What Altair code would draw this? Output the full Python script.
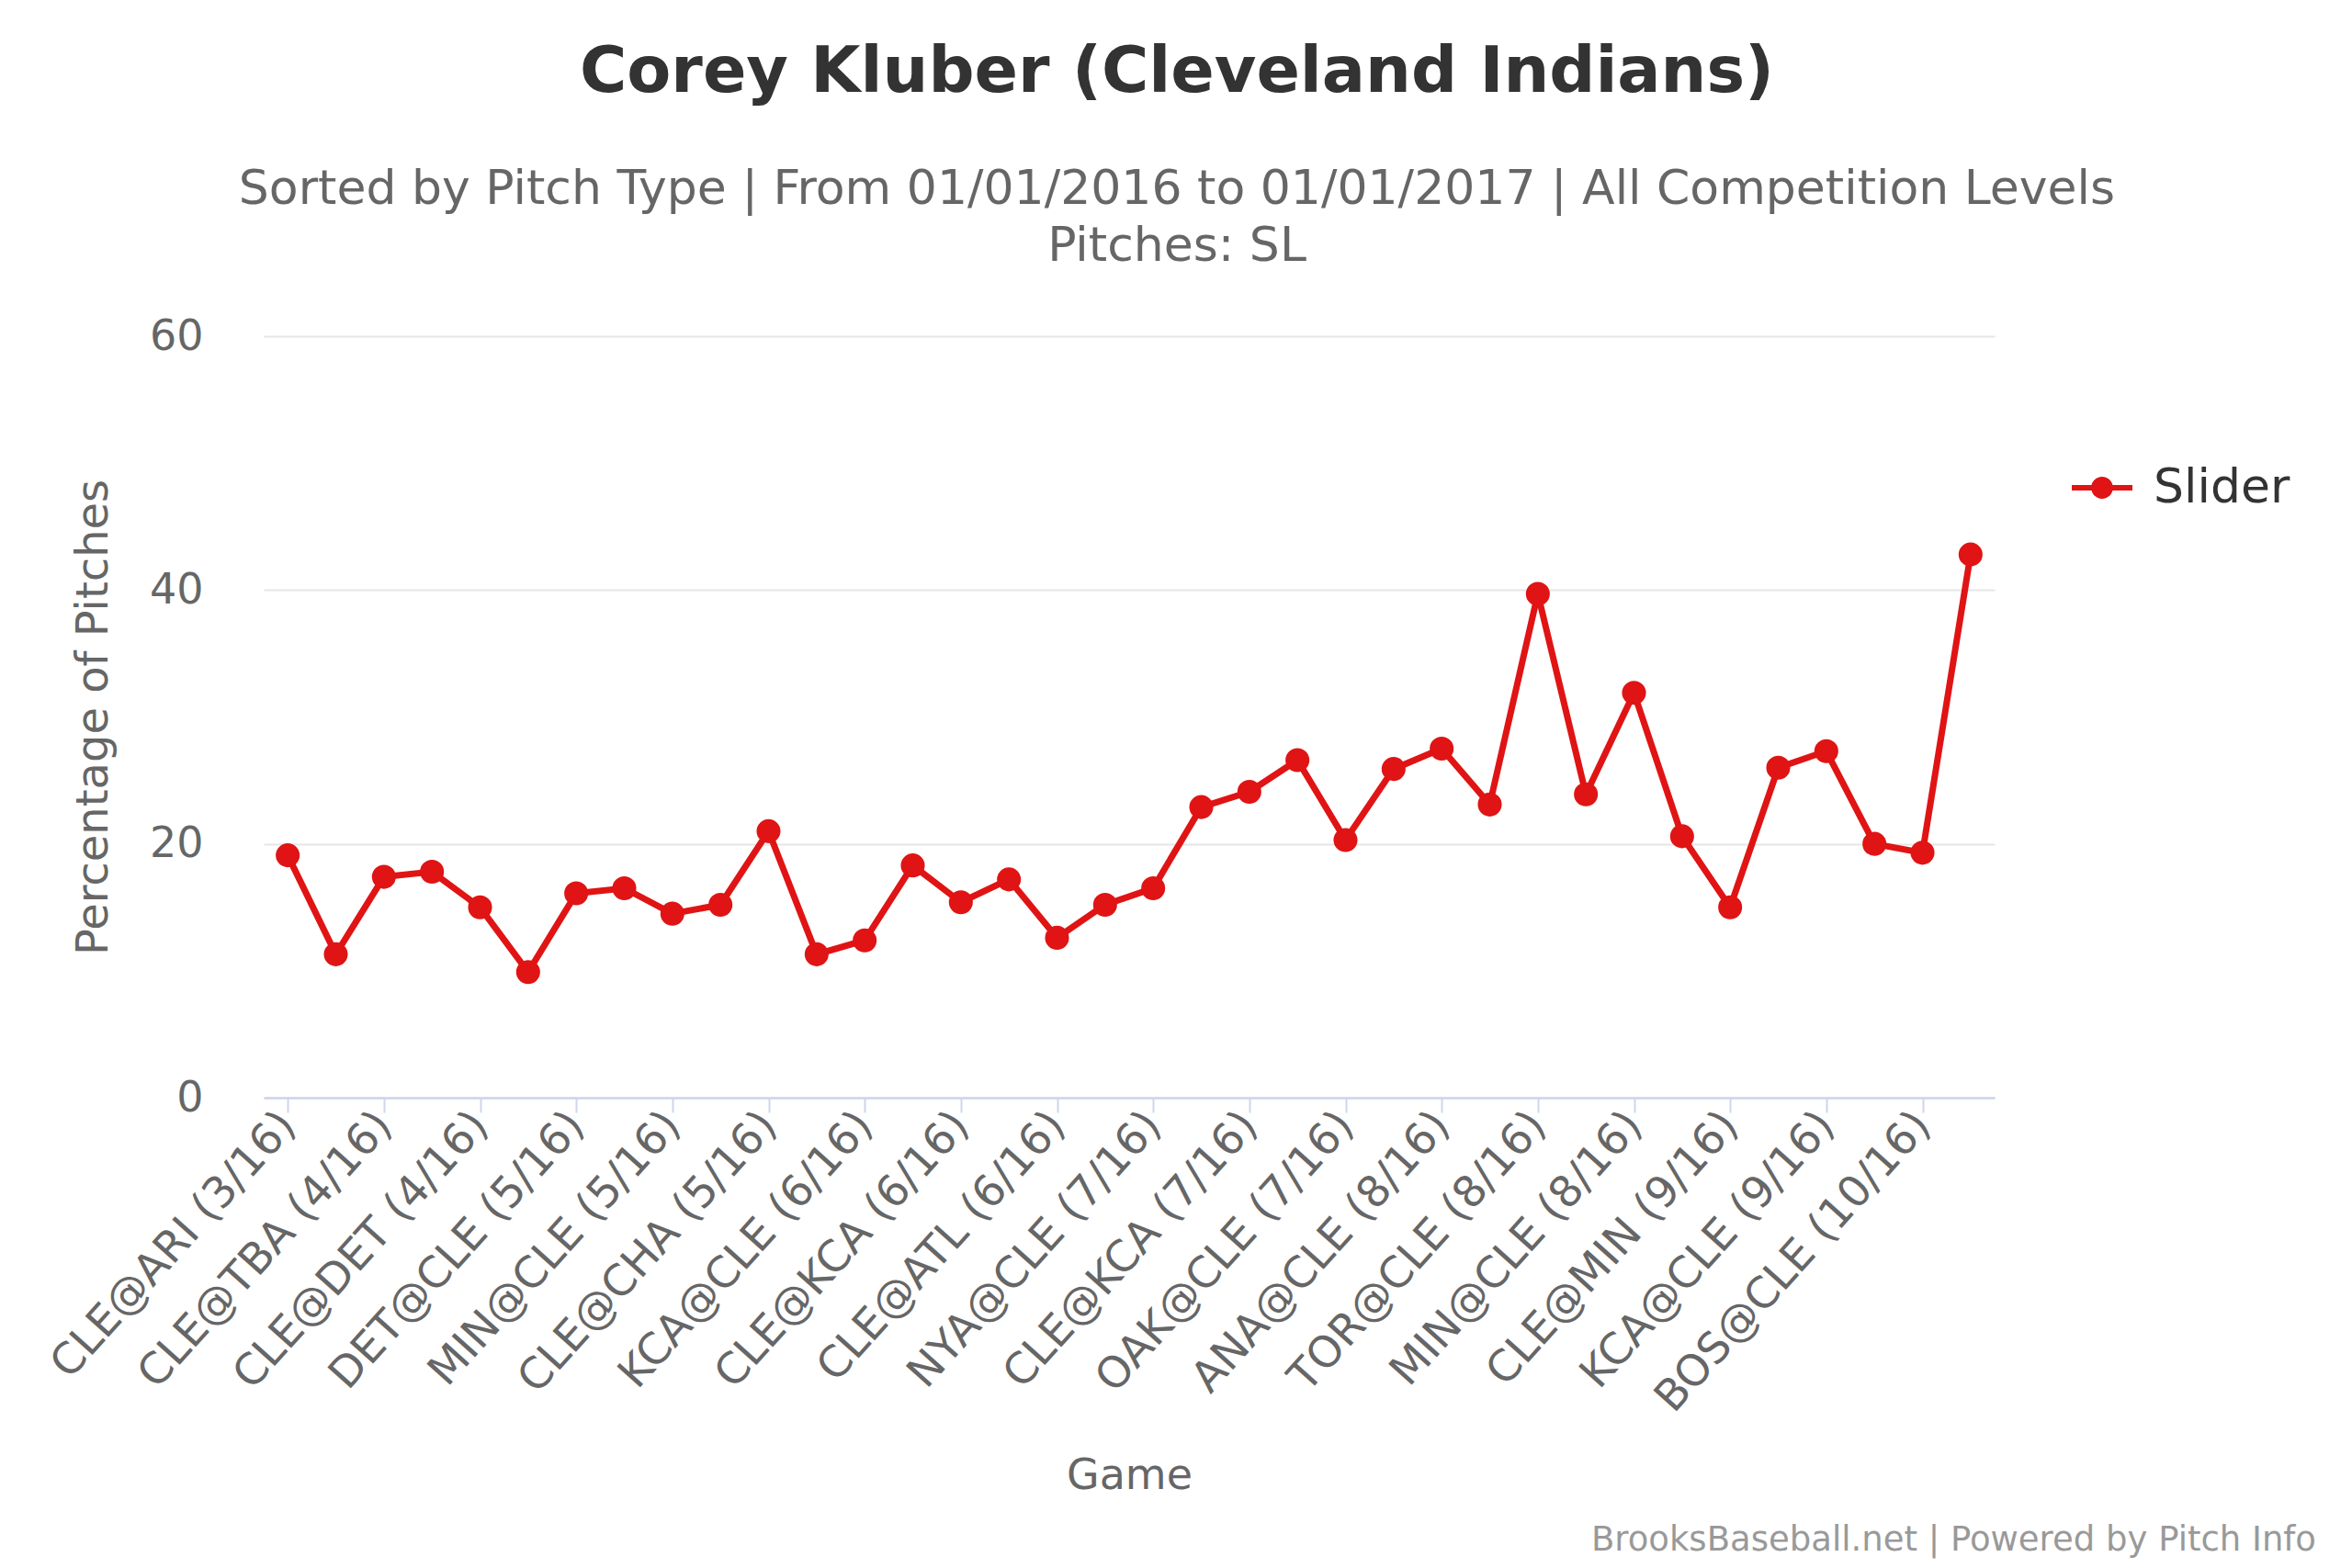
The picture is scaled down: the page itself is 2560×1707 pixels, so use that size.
import json
import altair as alt
import pandas as pd

# ---- data ----
game_labels = ["CLE@ARI (3/16)", "CLE@TBA (4/16)", "CLE@DET (4/16)", "DET@CLE (5/16)",
               "MIN@CLE (5/16)", "CLE@CHA (5/16)", "KCA@CLE (6/16)", "CLE@KCA (6/16)",
               "CLE@ATL (6/16)", "NYA@CLE (7/16)", "CLE@KCA (7/16)", "OAK@CLE (7/16)",
               "ANA@CLE (8/16)", "TOR@CLE (8/16)", "MIN@CLE (8/16)", "CLE@MIN (9/16)",
               "KCA@CLE (9/16)", "BOS@CLE (10/16)"]
game_index = list(range(36))
slider_pct = [19.1, 11.3, 17.4, 17.8, 15.0, 9.9, 16.1, 16.5, 14.5, 15.2,
              21.0, 11.3, 12.4, 18.3, 15.4, 17.2, 12.6, 15.2, 16.5, 22.9,
              24.1, 26.6, 20.3, 25.9, 27.5, 23.1, 39.7, 23.9, 31.9, 20.6,
              15.0, 26.0, 27.3, 20.0, 19.3, 42.8]
series_name = "Slider"
y_ticks = [0, 20, 40, 60]
x_ticks = list(range(0, 36, 2))

RED = "#e01414"
FONT = "DejaVu Sans"

df = pd.DataFrame({"game": game_index, "pct": slider_pct, "pitch": [series_name] * len(game_index)})

label_expr = json.dumps(game_labels) + "[round(datum.value / 2)]"

x_enc = alt.X("game:Q",
              scale=alt.Scale(domain=[-0.5, 35.5], nice=False, zero=False),
              axis=alt.Axis(values=x_ticks, labelExpr=label_expr, title="Game",
                            labelAngle=312, labelAlign="right", labelBaseline="middle",
                            labelFontSize=47, labelColor="#666666", labelPadding=6,
                            labelOverlap=False, labelFlush=False, labelLimit=0,
                            tickColor="#ccd6eb", tickSize=16, tickWidth=2,
                            domainColor="#ccd6eb", domainWidth=2.5,
                            grid=False,
                            titleFontSize=46, titleColor="#666666", titleFontWeight="normal",
                            titleY=389, titleBaseline="top"))
y_enc = alt.Y("pct:Q",
              scale=alt.Scale(domain=[0, 60], nice=False),
              axis=alt.Axis(values=y_ticks, title="Percentage of Pitches",
                            labelFontSize=46, labelColor="#666666", labelPadding=66,
                            ticks=False, domain=False,
                            gridColor="#e6e6e6", gridWidth=2,
                            titleFontSize=48, titleColor="#666666", titleFontWeight="normal",
                            titleAngle=270, titleBaseline="bottom", titleX=-161))

base = alt.Chart(df)

line = base.mark_line(color=RED, strokeWidth=7).encode(x=x_enc, y=y_enc)

legend_path = ("M-1,-0.09L1,-0.09L1,0.09L-1,0.09Z "
               "M-0.36,0A0.36,0.36 0 1,1 0.36,0A0.36,0.36 0 1,1 -0.36,0Z")

points = base.mark_point(filled=True, size=680, opacity=1, strokeWidth=0).encode(
    x="game:Q",
    y="pct:Q",
    color=alt.Color("pitch:N",
                    scale=alt.Scale(domain=[series_name], range=[RED]),
                    legend=alt.Legend(title=None, orient="none", legendX=1968, legendY=132,
                                      symbolType=legend_path, symbolSize=4356,
                                      symbolStrokeWidth=0, symbolOpacity=1,
                                      labelFontSize=52, labelColor="#333333",
                                      labelOffset=23, padding=0)),
)

credits_df = pd.DataFrame({"t": ["BrooksBaseball.net | Powered by Pitch Info"]})
credits = alt.Chart(credits_df).mark_text(align="right", baseline="alphabetic",
                                          fontSize=37, color="#999999").encode(
    text="t:N", x=alt.value(2234), y=alt.value(1322))

chart = alt.layer(line, points, credits).properties(
    width=1884, height=829,
    autosize=alt.AutoSizeParams(type="none"),
    padding={"left": 279, "top": 358, "right": 381, "bottom": 504},
    title=alt.TitleParams(
        text="Corey Kluber (Cleveland Indians)",
        subtitle=["Sorted by Pitch Type | From 01/01/2016 to 01/01/2017 | All Competition Levels",
                  "Pitches: SL"],
        anchor="middle", frame="group", dx=52, offset=48,
        fontSize=70, fontWeight="bold", color="#333333",
        subtitleFontSize=52, subtitleColor="#666666", subtitleLineHeight=62,
        subtitlePadding=66,
    ),
).configure(font=FONT, background="white").configure_view(stroke=None)

chart.save("out.html", embed_options={"renderer": "svg", "actions": False})
